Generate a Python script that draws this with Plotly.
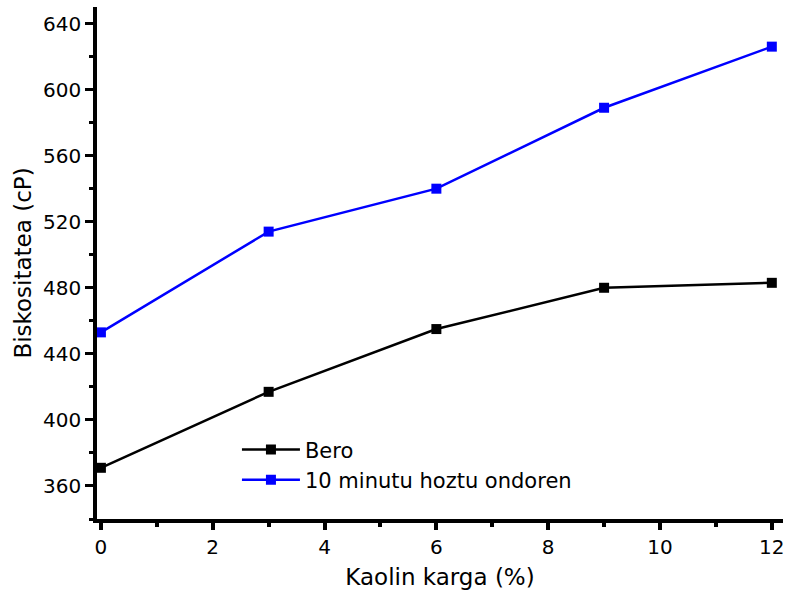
import plotly.graph_objects as go

kaolin = [0, 3, 6, 9, 12]
bero = [371, 417, 455, 480, 483]
hoztu = [453, 514, 540, 589, 626]
series_names = ["Bero", "10 minutu hoztu ondoren"]

FONT = "DejaVu Sans, Liberation Sans, Arial, sans-serif"

fig = go.Figure()
fig.add_trace(go.Scatter(
    x=kaolin, y=bero, mode="lines+markers", name=series_names[0],
    line=dict(color="black", width=2.5),
    marker=dict(symbol="square", size=10, color="black"),
))
fig.add_trace(go.Scatter(
    x=kaolin, y=hoztu, mode="lines+markers", name=series_names[1],
    line=dict(color="#0000ff", width=2.5),
    marker=dict(symbol="square", size=10, color="#0000ff"),
))

tick_font = dict(family=FONT, size=20, color="black")

fig.update_layout(
    width=789, height=605,
    margin=dict(l=97, r=6, t=7, b=86),
    paper_bgcolor="white", plot_bgcolor="white",
    font=dict(family=FONT, color="black"),
    xaxis=dict(
        range=[-0.07, 12.2], tickvals=[0, 2, 4, 6, 8, 10, 12],
        automargin=False,
        showline=True, linecolor="black", linewidth=4,
        ticks="outside", ticklen=7, tickwidth=4, tickcolor="black",
        showgrid=False, zeroline=False, tickfont=tick_font,
        minor=dict(dtick=1, tick0=0, ticks="outside", ticklen=4, tickwidth=4, tickcolor="black"),
        title=dict(text="Kaolin karga (%)", font=dict(family=FONT, size=23, color="black"), standoff=12),
    ),
    yaxis=dict(
        range=[340, 650], tickvals=[360, 400, 440, 480, 520, 560, 600, 640],
        automargin=False,
        showline=True, linecolor="black", linewidth=3.5,
        ticks="outside", ticklen=8, tickwidth=3, tickcolor="black",
        showgrid=False, zeroline=False, tickfont=tick_font,
        minor=dict(dtick=20, tick0=0, ticks="outside", ticklen=4, tickwidth=3, tickcolor="black"),
        title=dict(text="Biskositatea (cP)", font=dict(family=FONT, size=23, color="black"), standoff=6),
    ),
    legend=dict(
        x=0.204, y=0.175, xanchor="left", yanchor="top",
        bgcolor="rgba(0,0,0,0)", font=dict(family=FONT, size=21, color="black"),
        tracegroupgap=0, itemwidth=58,
    ),
    showlegend=True,
)

fig.write_html("out.html")
